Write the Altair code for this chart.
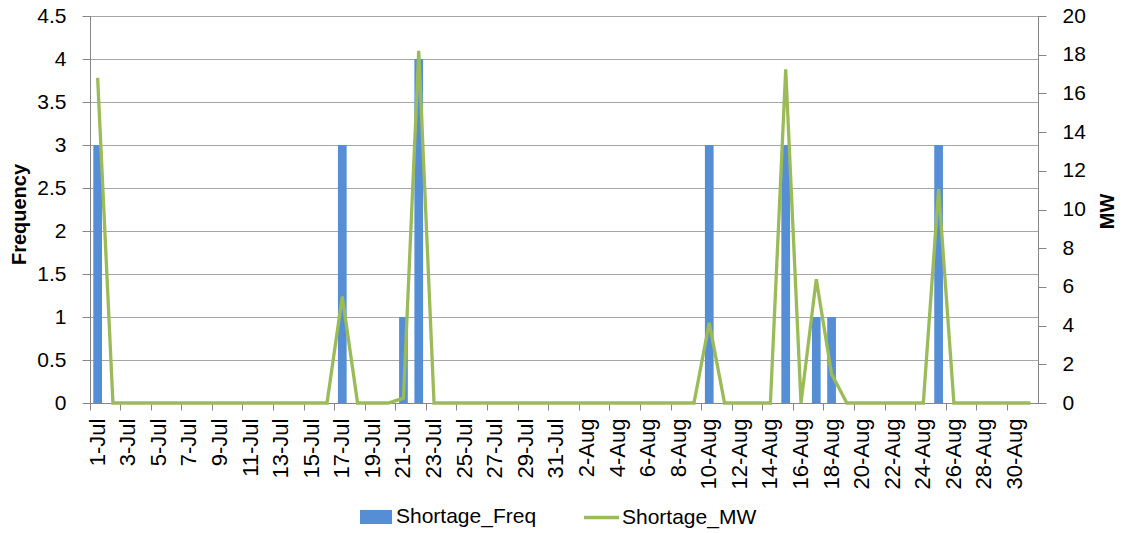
import altair as alt
import pandas as pd

# categories: 1-Jul ... 31-Aug
dates = [f"{d}-Jul" for d in range(1, 32)] + [f"{d}-Aug" for d in range(1, 32)]
tick_labels = [dates[i] for i in range(0, 62, 2)]

shortage_freq = [3, 0, 0, 0, 0, 0, 0, 0, 0, 0,
                 0, 0, 0, 0, 0, 0, 3, 0, 0, 0,
                 1, 4, 0, 0, 0, 0, 0, 0, 0, 0,
                 0, 0, 0, 0, 0, 0, 0, 0, 0, 0,
                 3, 0, 0, 0, 0, 3, 0, 1, 1, 0,
                 0, 0, 0, 0, 0, 3, 0, 0, 0, 0,
                 0, 0]

shortage_mw = [16.8, 0, 0, 0, 0, 0, 0, 0, 0, 0,
               0, 0, 0, 0, 0, 0, 5.5, 0, 0, 0,
               0.25, 18.2, 0, 0, 0, 0, 0, 0, 0, 0,
               0, 0, 0, 0, 0, 0, 0, 0, 0, 0,
               4.15, 0, 0, 0, 0, 17.25, 0, 6.4, 1.5, 0,
               0, 0, 0, 0, 0, 11.05, 0, 0, 0, 0,
               0, 0]

freq_ticks = [0, 0.5, 1, 1.5, 2, 2.5, 3, 3.5, 4, 4.5]
mw_ticks = [0, 2, 4, 6, 8, 10, 12, 14, 16, 18, 20]

df = pd.DataFrame({"date": dates, "freq": shortage_freq, "mw": shortage_mw})

FONT = "Liberation Sans"
GRAY = "#868686"

x_enc = alt.X(
    "date:N",
    sort=dates,
    scale=alt.Scale(paddingInner=0, paddingOuter=0),
    axis=alt.Axis(
        values=tick_labels,
        title=None,
        labelAngle=270,
        labelAlign="right",
        labelBaseline="middle",
        labelFontSize=22,
        labelFont=FONT,
        labelColor="black",
        labelPadding=8,
        tickSize=7,
        bandPosition=0,
        grid=False,
        domainColor=GRAY,
        tickColor=GRAY,
    ),
)

bars = alt.Chart(df).transform_calculate(series="'Shortage_Freq'").mark_bar(
    width=alt.RelativeBandSize(0.57)
).encode(
    x=x_enc,
    y=alt.Y(
        "freq:Q",
        scale=alt.Scale(domain=[0, 4.5], nice=False),
        axis=alt.Axis(
            values=freq_ticks,
            format="~g",
            title="Frequency",
            titleFont=FONT,
            titleFontSize=20,
            titleFontWeight="bold",
            titleColor="black",
            titleAngle=270,
            titleAlign="center",
            titleBaseline="middle",
            titleX=-71,
            titleY=198,
            labelFontSize=21,
            labelFont=FONT,
            labelColor="black",
            labelPadding=16,
            tickSize=8,
            grid=True,
            gridColor="#A6A6A6",
            domainColor=GRAY,
            tickColor=GRAY,
        ),
    ),
    color=alt.Color(
        "series:N",
        scale=alt.Scale(domain=["Shortage_Freq"], range=["#558ED5"]),
        legend=alt.Legend(
            title=None,
            orient="none",
            legendX=270,
            legendY=485,
            padding=0,
            symbolType="M-1,-0.44H1V0.44H-1Z",
            symbolSize=1024,
            symbolStrokeWidth=0,
            labelFont=FONT,
            labelFontSize=21,
            labelColor="black",
            labelOffset=4,
        ),
    ),
)

line = alt.Chart(df).transform_calculate(series="'Shortage_MW'").mark_line(
    strokeWidth=3.3
).encode(
    x=x_enc,
    y=alt.Y(
        "mw:Q",
        scale=alt.Scale(domain=[0, 20], nice=False),
        axis=alt.Axis(
            orient="right",
            values=mw_ticks,
            title="MW",
            titleFont=FONT,
            titleFontSize=20,
            titleFontWeight="bold",
            titleColor="black",
            titleAngle=270,
            titleAlign="center",
            titleBaseline="middle",
            titleX=69,
            titleY=195,
            labelFontSize=21,
            labelFont=FONT,
            labelColor="black",
            labelPadding=16,
            tickSize=8,
            grid=False,
            domainColor=GRAY,
            tickColor=GRAY,
        ),
    ),
    stroke=alt.Stroke(
        "series:N",
        scale=alt.Scale(domain=["Shortage_MW"], range=["#9BBB59"]),
        legend=alt.Legend(
            title=None,
            orient="none",
            legendX=492,
            legendY=482,
            padding=0,
            symbolType="stroke",
            symbolSize=1225,
            symbolStrokeWidth=3.3,
            labelFont=FONT,
            labelFontSize=21,
            labelColor="black",
            labelOffset=1,
        ),
    ),
)

chart = alt.layer(bars, line).resolve_scale(
    y="independent", color="independent", stroke="independent"
).properties(
    width=948,
    height=387,
    autosize=alt.AutoSizeParams(type="none"),
    padding={"left": 82, "top": 8, "right": 78, "bottom": 127},
).configure_view(
    stroke="#303030", strokeWidth=1
)

chart.save("out.html", embed_options={"renderer": "svg", "actions": False})
